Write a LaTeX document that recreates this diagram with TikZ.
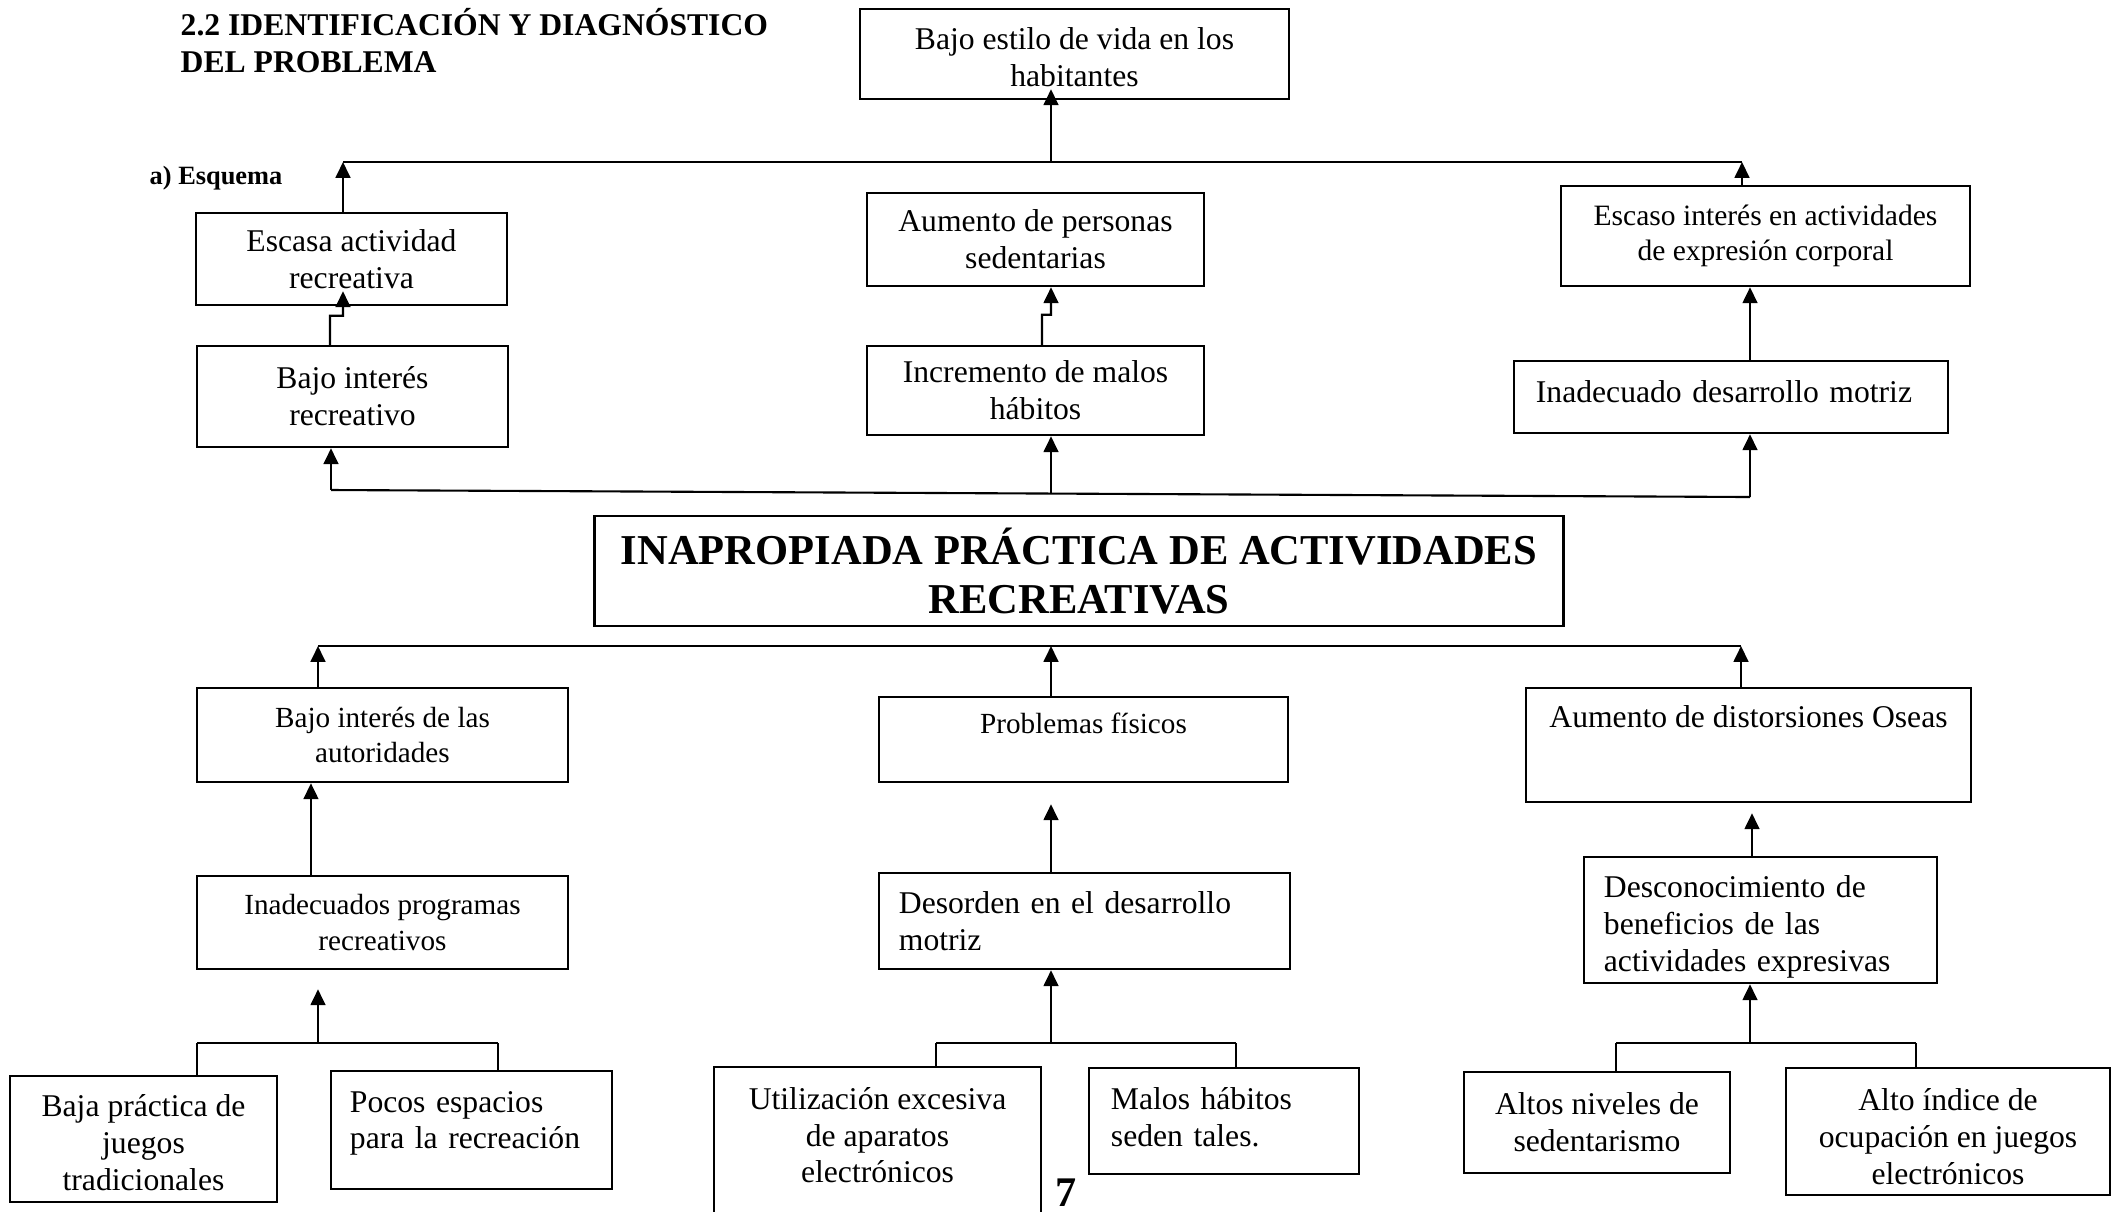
\documentclass[tikz,border=0pt]{standalone}
\usepackage{fontspec}
\setmainfont{Liberation Serif}
\usetikzlibrary{arrows.meta}

\tikzset{
  box/.style={draw, line width=0.7pt, inner sep=0pt, align=center, font=\fontsize{9}{10.5}\selectfont},
  chico/.style={font=\fontsize{8.3}{10}\selectfont},
  arr/.style={-{Triangle[length=4.5pt,width=4.2pt]}, line width=0.6pt},
  linea/.style={line width=0.6pt},
  stub/.style={line width=0.4pt}
}

\begin{document}
\begin{tikzpicture}[x=0.01cm, y=-0.01cm]
 \clip (0,0) rectangle (2118,1211);
 \node[anchor=west, align=left, inner sep=0pt, font=\bfseries\fontsize{9}{10.5}\selectfont] (titulo) at (180,41) {2.2 IDENTIFICACIÓN Y DIAGNÓSTICO\\DEL PROBLEMA};
 \node[anchor=west, inner sep=0pt, font=\bfseries\fontsize{7.5}{9}\selectfont] (esquema) at (149,178) {a) Esquema};

 \node[box, minimum width=4.29cm, minimum height=0.9cm] (topbox) at (1074.5,54) {\rule{0pt}{0.28cm}Bajo estilo de vida en los\\habitantes};
 \node[box, minimum width=3.11cm, minimum height=0.92cm] (escasa) at (351.5,259) {Escasa actividad\\recreativa};
 \node[box, minimum width=3.37cm, minimum height=0.93cm] (aumento) at (1035.5,239.5) {Aumento de personas\\sedentarias};
 \node[box, font=\fontsize{8.4}{10}\selectfont, minimum width=4.09cm, minimum height=1cm] (escaso) at (1765.5,236) {Escaso interés en actividades\\de expresión corporal};
 \node[box, minimum width=3.11cm, minimum height=1.01cm] (bajoint) at (352.5,396.5) {Bajo interés\\recreativo};
 \node[box, minimum width=3.37cm, minimum height=0.89cm] (incremento) at (1035.5,390.5) {Incremento de malos\\hábitos};
 \node[box, align=left, text width=3.9cm, inner xsep=0.22cm, minimum height=0.72cm] (inadmot) at (1731,397) {Inadecuado desarrollo motriz\rule[-0.1cm]{0pt}{0.1cm}};

 \node[box, font=\bfseries\fontsize{12.1}{13.9}\selectfont, minimum width=9.68cm, minimum height=1.1cm] (problema) at (1079,571) {INAPROPIADA PRÁCTICA DE ACTIVIDADES\\RECREATIVAS};

 \node[box, chico, minimum width=3.71cm, minimum height=0.94cm] (autorid) at (382.5,735) {Bajo interés de las\\autoridades};
 \node[box, chico, minimum width=4.09cm, text height=0.365cm, text depth=0.485cm] (fisicos) at (1083.5,739.5) {Problemas físicos};
 \node[box, minimum width=4.45cm, text height=0.39cm, text depth=0.75cm] (oseas) at (1748.5,745) {Aumento de distorsiones Oseas};
 \node[box, chico, minimum width=3.71cm, minimum height=0.93cm] (programas) at (382.5,922.5) {Inadecuados programas\\recreativos};
 \node[box, align=left, text width=3.71cm, inner xsep=0.2cm, minimum height=0.96cm] (desorden) at (1084.5,921) {Desorden en el desarrollo\\motriz};
 \node[box, align=left, text width=3.13cm, inner xsep=0.2cm, minimum height=1.26cm] (desconoc) at (1760.5,920) {\rule{0pt}{0.36cm}Desconocimiento de\\beneficios de las\\actividades expresivas};

 \node[box, minimum width=2.67cm, minimum height=1.26cm] (juegos) at (143.5,1139) {\rule{0pt}{0.3cm}Baja práctica de\\juegos\\tradicionales};
 \node[box, align=left, text width=2.43cm, inner xsep=0.19cm, minimum height=1.18cm] (espacios) at (471.5,1130) {Pocos espacios\\para la recreación\rule[-0.2cm]{0pt}{0.2cm}};
 \node[box, minimum width=3.27cm, minimum height=1.48cm] (aparatos) at (877.5,1141) {Utilización excesiva\\de aparatos\\electrónicos\rule[-0.12cm]{0pt}{0.12cm}};
 \node[box, align=left, text width=2.26cm, inner xsep=0.22cm, minimum height=1.06cm] (malos) at (1224,1121) {Malos hábitos\\seden tales.\rule[-0.08cm]{0pt}{0.08cm}};
 \node[box, minimum width=2.66cm, minimum height=1.01cm] (altos) at (1597,1122.5) {Altos niveles de\\sedentarismo};
 \node[box, minimum width=3.24cm, minimum height=1.27cm] (indice) at (1948,1131.5) {\rule{0pt}{0.33cm}Alto índice de\\ocupación en juegos\\electrónicos};
 \node[font=\bfseries\fontsize{12}{14}\selectfont, inner sep=0pt] (pagina) at (1066,1193) {7};

 \coordinate (effL) at (343,162);
 \coordinate (effM) at (1051,162);
 \coordinate (effR) at (1742,162);
 \draw[linea] (effL) -- (effR);
 \draw[arr] (effL |- escasa.north) -- (effL);
 \draw[arr] (effR |- escaso.north) -- (effR);
 \draw[arr, shorten >=-0.11cm] (effM) -- (effM |- topbox.south);

 \draw[arr] ([xshift=-0.225cm]bajoint.north) -- ++(0,-29) -- ++(13,0) -- ([xshift=-0.085cm,yshift=0.15cm]escasa.south);
 \draw[arr] ([xshift=0.065cm]incremento.north) -- ++(0,-30) -- ++(9,0) -- ([xshift=0.155cm]aumento.south);
 \draw[arr] ([xshift=0.19cm]inadmot.north) -- ([xshift=0.19cm]inadmot.north |- escaso.south);

 \coordinate (causaL) at (331,490);
 \coordinate (causaM) at (1051,493.5);
 \coordinate (causaR) at (1750,497);
 \draw[linea] (causaL) -- (causaR);
 \draw[arr] (causaL) -- (causaL |- bajoint.south);
 \draw[arr] (causaM) -- (causaM |- incremento.south);
 \draw[arr] (causaR) -- (causaR |- inadmot.south);

 \coordinate (raizL) at (318,646);
 \coordinate (raizM) at (1051,646);
 \coordinate (raizR) at (1741,646);
 \draw[linea] (raizL) -- (raizR);
 \draw[arr] (raizL |- autorid.north) -- (raizL);
 \draw[arr] (raizM |- fisicos.north) -- (raizM);
 \draw[arr] (raizR |- oseas.north) -- (raizR);

 \draw[arr] ([xshift=-0.715cm]programas.north) -- ([xshift=-0.715cm]programas.north |- autorid.south);
 \draw[arr, shorten >=0.21cm] (raizM |- desorden.north) -- (raizM |- fisicos.south);
 \draw[arr, shorten >=0.1cm] ([xshift=-0.085cm]desconoc.north) -- ([xshift=-0.085cm]desconoc.north |- oseas.south);

 \coordinate (ja) at (197,1043);
 \coordinate (jm) at (318,1043);
 \coordinate (jb) at (498,1043);
 \draw[linea] (ja) -- (jb);
 \draw[stub] (ja) -- (ja |- juegos.north);
 \draw[stub] (jb) -- (jb |- espacios.north);
 \draw[arr, shorten >=0.19cm] (jm) -- (jm |- programas.south);

 \coordinate (ma) at (936,1043);
 \coordinate (mm) at (1051,1043);
 \coordinate (mb) at (1236,1043);
 \draw[linea] (ma) -- (mb);
 \draw[stub] (ma) -- (ma |- aparatos.north);
 \draw[stub] (mb) -- (mb |- malos.north);
 \draw[arr] (mm) -- (mm |- desorden.south);

 \coordinate (ra) at (1616,1043);
 \coordinate (rm) at (1750,1043);
 \coordinate (rb) at (1916,1043);
 \draw[linea] (ra) -- (rb);
 \draw[stub] (ra) -- (ra |- altos.north);
 \draw[stub] (rb) -- (rb |- indice.north);
 \draw[arr] (rm) -- (rm |- desconoc.south);
\end{tikzpicture}
\end{document}
